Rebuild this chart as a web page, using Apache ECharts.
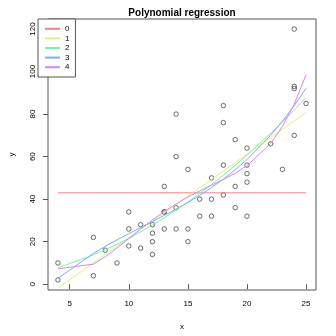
<!DOCTYPE html>
<html>
<head>
<meta charset="utf-8">
<script src="https://cdn.jsdelivr.net/npm/echarts@6/dist/echarts.min.js"></script>
<style>
  html, body { margin: 0; padding: 0; background: #fff; }
  #chart { width: 336px; height: 336px; }
</style>
</head>
<body>
<div id="chart"></div>
<script>
// Stopping distance vs speed observations
const speed = [4,4,7,7,8,9,10,10,10,11,11,12,12,12,12,13,13,13,13,14,14,14,14,15,15,15,16,16,17,17,17,18,18,18,18,19,19,19,20,20,20,20,20,22,23,24,24,24,24,25];
const dist  = [2,10,4,22,16,10,18,26,34,17,28,14,20,24,28,26,34,34,46,26,36,60,80,20,26,54,32,40,32,40,50,42,56,76,84,36,46,68,32,48,52,56,64,66,54,70,92,93,120,85];

const degrees = [0, 1, 2, 3, 4];
const degreeNames = ['0', '1', '2', '3', '4'];
const lineColors = ['#f08585', '#e0f27a', '#7af2a8', '#7eacf7', '#d884f5'];
const xTicks = [5, 10, 15, 20, 25];
const yTicks = [0, 20, 40, 60, 80, 100, 120];

// Least-squares polynomial fit (x centred/scaled for stability)
function polyFit(xs, ys, deg) {
  const c = 14.5, s = 10;
  const n = deg + 1;
  const A = Array.from({length: n}, () => new Array(n + 1).fill(0));
  for (let k = 0; k < xs.length; k++) {
    const z = (xs[k] - c) / s;
    const p = [];
    for (let i = 0; i < n; i++) p.push(Math.pow(z, i));
    for (let i = 0; i < n; i++) {
      for (let j = 0; j < n; j++) A[i][j] += p[i] * p[j];
      A[i][n] += p[i] * ys[k];
    }
  }
  for (let i = 0; i < n; i++) {
    let piv = i;
    for (let r = i + 1; r < n; r++) if (Math.abs(A[r][i]) > Math.abs(A[piv][i])) piv = r;
    [A[i], A[piv]] = [A[piv], A[i]];
    for (let r = 0; r < n; r++) {
      if (r === i) continue;
      const f = A[r][i] / A[i][i];
      for (let j = i; j <= n; j++) A[r][j] -= f * A[i][j];
    }
  }
  const coef = A.map((row, i) => row[n] / row[i]);
  return x => {
    const z = (x - c) / s;
    let v = 0;
    for (let i = n - 1; i >= 0; i--) v = v * z + coef[i];
    return v;
  };
}

// fitted curves evaluated at each distinct speed
const xs = Array.from(new Set(speed)).sort((a, b) => a - b);

const fitSeries = degrees.map((d, i) => {
  const f = polyFit(speed, dist, d);
  return {
    name: degreeNames[i],
    type: 'line',
    data: xs.map(x => [x, f(x)]),
    showSymbol: false,
    symbol: 'none',
    lineStyle: { color: lineColors[i], width: 1 },
    itemStyle: { color: lineColors[i] },
    silent: true,
    animation: false
  };
});

const axisColor = '#555';
const font = 'Liberation Sans, Arial, sans-serif';

const chart = echarts.init(document.getElementById('chart'), null, { renderer: 'canvas' });
chart.setOption({
  animation: false,
  backgroundColor: '#fff',
  title: {
    text: 'Polynomial regression',
    left: 177,
    textAlign: 'center',
    top: 3,
    textStyle: { fontFamily: font, fontSize: 10, fontWeight: 'bold', color: '#000' }
  },
  grid: {
    left: 38, right: 20, top: 19, bottom: 39,
    show: true, borderColor: axisColor, borderWidth: 1, backgroundColor: 'transparent'
  },
  legend: {
    data: degreeNames,
    orient: 'vertical',
    left: 38,
    top: 19,
    padding: [5, 6, 5, 7],
    itemWidth: 15,
    itemHeight: 2,
    itemGap: 0,
    icon: 'rect',
    borderColor: axisColor,
    borderWidth: 1,
    backgroundColor: '#fff',
    textStyle: { fontFamily: font, fontSize: 8, color: '#000', lineHeight: 9.6, height: 9.6 }
  },
  xAxis: {
    type: 'value',
    min: 3.16,
    max: 25.84,
    name: 'x',
    nameLocation: 'middle',
    nameGap: 33,
    nameTextStyle: { fontFamily: font, fontSize: 8, color: '#000' },
    axisLine: { show: false },
    axisTick: { show: true, inside: false, length: 5, lineStyle: { color: axisColor }, customValues: xTicks },
    axisLabel: { fontFamily: font, fontSize: 8, color: '#000', margin: 10, customValues: xTicks },
    splitLine: { show: false }
  },
  yAxis: {
    type: 'value',
    min: -2.72,
    max: 124.72,
    name: 'y',
    nameLocation: 'middle',
    nameGap: 32,
    nameTextStyle: { fontFamily: font, fontSize: 8, color: '#000' },
    axisLine: { show: false },
    axisTick: { show: true, inside: false, length: 5, lineStyle: { color: axisColor }, customValues: yTicks },
    axisLabel: { fontFamily: font, fontSize: 8, color: '#000', margin: 11, rotate: 90, customValues: yTicks },
    splitLine: { show: false }
  },
  series: [
    {
      name: 'observations',
      type: 'scatter',
      data: speed.map((x, i) => [x, dist[i]]),
      symbol: 'circle',
      symbolSize: 4.5,
      itemStyle: { color: 'transparent', borderColor: '#333', borderWidth: 0.9 },
      silent: true
    },
    ...fitSeries
  ]
});
</script>
</body>
</html>
